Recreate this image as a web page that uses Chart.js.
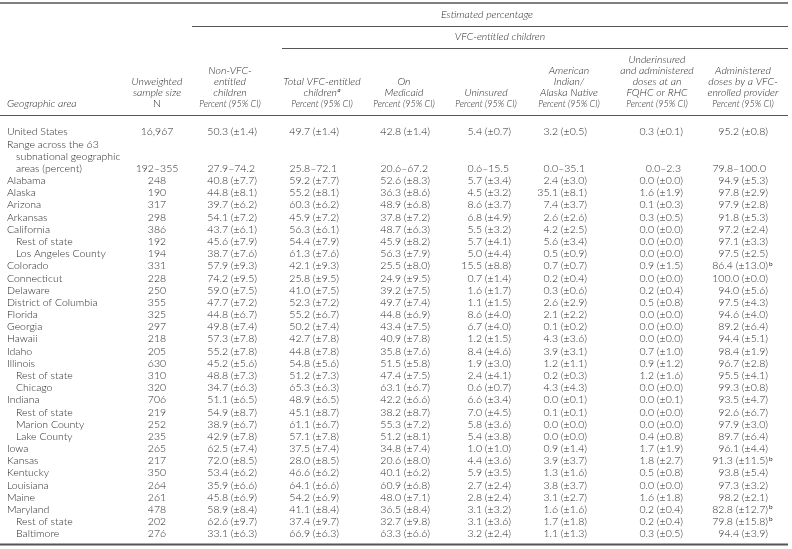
<!DOCTYPE html>
<html><head><meta charset="utf-8">
<script src="https://cdn.jsdelivr.net/npm/chart.js@4.4.1/dist/chart.umd.min.js"></script>
<style>html,body{margin:0;padding:0;background:#fff}#wrap{width:792px;height:549px;position:relative}canvas{display:block}</style>
</head><body><div id="wrap"><canvas id="c" width="792" height="549" style="width:792px;height:549px"></canvas></div>
<script>
// ---------------- DATA ----------------
const areas = ["United States","Alabama","Alaska","Arizona","Arkansas","California","Rest of state","Los Angeles County","Colorado","Connecticut","Delaware","District of Columbia","Florida","Georgia","Hawaii","Idaho","Illinois","Rest of state","Chicago","Indiana","Rest of state","Marion County","Lake County","Iowa","Kansas","Kentucky","Louisiana","Maine","Maryland","Rest of state","Baltimore"];
const subArea = [false,false,false,false,false,false,true,true,false,false,false,false,false,false,false,false,false,true,true,false,true,true,true,false,false,false,false,false,false,true,true];
const rangeLabel = ["Range across the 63","subnational geographic","areas (percent)"];
const sampleSize = [16967,248,190,317,298,386,192,194,331,228,250,355,325,297,218,205,630,310,320,706,219,252,235,265,217,350,264,261,478,202,276];
const nonVfc   = [50.3,40.8,44.8,39.7,54.1,43.7,45.6,38.7,57.9,74.2,59.0,47.7,44.8,49.8,57.3,55.2,45.2,48.8,34.7,51.1,54.9,38.9,42.9,62.5,72.0,53.4,35.9,45.8,58.9,62.6,33.1];
const nonVfcCI = [1.4,7.7,8.1,6.2,7.2,6.1,7.9,7.6,9.3,9.5,7.5,7.2,6.7,7.4,7.8,7.8,5.6,7.3,6.3,6.5,8.7,6.7,7.8,7.4,8.5,6.2,6.6,6.9,8.4,9.7,6.3];
const totalVfc   = [49.7,59.2,55.2,60.3,45.9,56.3,54.4,61.3,42.1,25.8,41.0,52.3,55.2,50.2,42.7,44.8,54.8,51.2,65.3,48.9,45.1,61.1,57.1,37.5,28.0,46.6,64.1,54.2,41.1,37.4,66.9];
const totalVfcCI = [1.4,7.7,8.1,6.2,7.2,6.1,7.9,7.6,9.3,9.5,7.5,7.2,6.7,7.4,7.8,7.8,5.6,7.3,6.3,6.5,8.7,6.7,7.8,7.4,8.5,6.2,6.6,6.9,8.4,9.7,6.3];
const medicaid   = [42.8,52.6,36.3,48.9,37.8,48.7,45.9,56.3,25.5,24.9,39.2,49.7,44.8,43.4,40.9,35.8,51.5,47.4,63.1,42.2,38.2,55.3,51.2,34.8,20.6,40.1,60.9,48.0,36.5,32.7,63.3];
const medicaidCI = [1.4,8.3,8.6,6.8,7.2,6.3,8.2,7.9,8.0,9.5,7.5,7.4,6.9,7.5,7.8,7.6,5.8,7.5,6.7,6.6,8.7,7.2,8.1,7.4,8.0,6.2,6.8,7.1,8.4,9.8,6.6];
const uninsured   = [5.4,5.7,4.5,8.6,6.8,5.5,5.7,5.0,15.5,0.7,1.6,1.1,8.6,6.7,1.2,8.4,1.9,2.4,0.6,6.6,7.0,5.8,5.4,1.0,4.4,5.9,2.7,2.8,3.1,3.1,3.2];
const uninsuredCI = [0.7,3.4,3.2,3.7,4.9,3.2,4.1,4.4,8.8,1.4,1.7,1.5,4.0,4.0,1.5,4.6,3.0,4.1,0.7,3.4,4.5,3.6,3.8,1.0,3.6,3.5,2.4,2.4,3.2,3.6,2.4];
const aian   = [3.2,2.4,35.1,7.4,2.6,4.2,5.6,0.5,0.7,0.2,0.3,2.6,2.1,0.1,4.3,3.9,1.2,0.2,4.3,0.0,0.1,0.0,0.0,0.9,3.9,1.3,3.8,3.1,1.6,1.7,1.1];
const aianCI = [0.5,3.0,8.1,3.7,2.6,2.5,3.4,0.9,0.7,0.4,0.6,2.9,2.2,0.2,3.6,3.1,1.1,0.3,4.3,0.1,0.1,0.0,0.0,1.4,3.7,1.6,3.7,2.7,1.6,1.8,1.3];
const underFqhc   = [0.3,0.0,1.6,0.1,0.3,0.0,0.0,0.0,0.9,0.0,0.2,0.5,0.0,0.0,0.0,0.7,0.9,1.2,0.0,0.0,0.0,0.0,0.4,1.7,1.8,0.5,0.0,1.6,0.2,0.2,0.3];
const underFqhcCI = [0.1,0.0,1.9,0.3,0.5,0.0,0.0,0.0,1.5,0.0,0.4,0.8,0.0,0.0,0.0,1.0,1.2,1.6,0.0,0.1,0.0,0.0,0.8,1.9,2.7,0.8,0.0,1.8,0.4,0.4,0.5];
const vfcProvider   = [95.2,94.9,97.8,97.9,91.8,97.2,97.1,97.5,86.4,100.0,94.0,97.5,94.6,89.2,94.4,98.4,96.7,95.5,99.3,93.5,92.6,97.9,89.7,96.1,91.3,93.8,97.3,98.2,82.8,79.8,94.4];
const vfcProviderCI = [0.8,5.3,2.9,2.8,5.3,2.4,3.3,2.5,13.0,0.0,5.6,4.3,4.0,6.4,5.1,1.9,2.8,4.1,0.8,4.7,6.7,3.0,6.4,4.4,11.5,5.4,3.2,2.1,12.7,15.8,3.9];
const vfcProviderNote = ["","","","","","","","","b","","","","","","","","","","","","","","","","b","","","","b","b",""];
// range across the 63 subnational areas: N, then the seven percentage columns
const rangeLow  = [192,27.9,25.8,20.6,0.6,0.0,0.0,79.8];
const rangeHigh = [355,74.2,72.1,67.2,15.5,35.1,2.3,100.0];

// ---------------- LAYOUT / STYLE ----------------
const W = 792, H = 549;
const FONT = 'Lato, "Open Sans", sans-serif';
const BODY = `300 10.5px ${FONT}`;
const HEAD = `italic 300 10.5px ${FONT}`;
const TXT = '#2a2a2a', RULE = '#555';
// x anchor for each numeric column (N is centred, others right-aligned)
const colAnchor = [157, 257, 339, 430, 511, 587, 683, 768];
const colAlign  = ['center','right','right','right','right','right','right','right'];
const headCenter = [157, 230, 322, 404, 486, 569, 657, 743];
const headLines = [
  [{t:"Unweighted"},{t:"sample size"},{t:"N",up:true}],
  [{t:"Non-VFC-"},{t:"entitled"},{t:"children"},{t:"Percent (95% CI)"}],
  [{t:"Total VFC-entitled"},{t:"children",sup:"a"},{t:"Percent (95% CI)"}],
  [{t:"On"},{t:"Medicaid"},{t:"Percent (95% CI)"}],
  [{t:"Uninsured"},{t:"Percent (95% CI)"}],
  [{t:"American"},{t:"Indian/"},{t:"Alaska Native"},{t:"Percent (95% CI)"}],
  [{t:"Underinsured"},{t:"and administered"},{t:"doses at an"},{t:"FQHC or RHC"},{t:"Percent (95% CI)"}],
  [{t:"Administered"},{t:"doses by a VFC-"},{t:"enrolled provider"},{t:"Percent (95% CI)"}]
];
const HEAD_SQUEEZE = {"Percent (95% CI)": 0.86};

// row line index: US = 0, range block = lines 1..3, then one line per area
const rangeLine = 3;
const areaLine = areas.map((a, i) => i === 0 ? 0 : i + rangeLine);
const lastLine = areaLine[areaLine.length - 1];

const f1 = v => v.toFixed(1);
const valueCols = [
  {v: sampleSize},
  {v: nonVfc, ci: nonVfcCI},
  {v: totalVfc, ci: totalVfcCI},
  {v: medicaid, ci: medicaidCI},
  {v: uninsured, ci: uninsuredCI},
  {v: aian, ci: aianCI},
  {v: underFqhc, ci: underFqhcCI},
  {v: vfcProvider, ci: vfcProviderCI, note: vfcProviderNote}
];

const datasets = valueCols.map((col, c) => {
  const pts = [], labels = [], notes = [];
  col.v.forEach((val, i) => {
    pts.push({x: colAnchor[c], y: areaLine[i]});
    labels.push(col.ci ? `${f1(val)} (\u00b1${f1(col.ci[i])})` : val.toLocaleString('en-US'));
    notes.push(col.note ? col.note[i] : '');
  });
  // range row
  pts.push({x: colAnchor[c], y: rangeLine});
  labels.push(c === 0 ? `${rangeLow[c]}\u2013${rangeHigh[c]}` : `${f1(rangeLow[c])}\u2013${f1(rangeHigh[c])}`);
  notes.push('');
  return {data: pts, cellText: labels, cellNote: notes, align: colAlign[c], isRange: pts.length - 1,
          pointRadius: 0, pointHoverRadius: 0, showLine: false};
});

const tablePlugin = {
  id: 'tableText',
  afterDatasetsDraw(chart) {
    const ctx = chart.ctx, ys = chart.scales.y;
    ctx.save();
    ctx.fillStyle = TXT;
    ctx.textBaseline = 'middle';
    // cells
    chart.data.datasets.forEach((ds, di) => {
      const meta = chart.getDatasetMeta(di);
      meta.data.forEach((el, i) => {
        ctx.font = BODY;
        let x = el.x;
        if (i === ds.isRange && ds.align === 'right') x -= 2;
        ctx.textAlign = ds.align;
        ctx.fillText(ds.cellText[i], x, el.y);
        if (ds.cellNote[i]) {
          ctx.font = `6.5px ${FONT}`;
          ctx.textAlign = 'left';
          ctx.fillText(ds.cellNote[i], x + 1, el.y - 2.5);
        }
      });
    });
    // row labels
    ctx.font = BODY;
    ctx.textAlign = 'left';
    areas.forEach((a, i) => {
      ctx.fillText(a, subArea[i] ? 16 : 7, ys.getPixelForValue(areaLine[i]));
    });
    rangeLabel.forEach((t, k) => {
      ctx.fillText(t, k === 0 ? 7 : 16, ys.getPixelForValue(rangeLine - 2 + k));
    });
    // header
    const headBottom = 104, headStep = 11;
    ctx.font = HEAD;
    ctx.textAlign = 'left';
    ctx.fillText('Geographic area', 7, headBottom);
    headLines.forEach((lines, c) => {
      const n = lines.length;
      lines.forEach((ln, k) => {
        const y = headBottom - (n - 1 - k) * headStep;
        const sq = HEAD_SQUEEZE[ln.t] || 1;
        ctx.font = ln.up ? BODY : HEAD;
        const w = ctx.measureText(ln.t).width * sq;
        let sw = 0;
        if (ln.sup) { ctx.font = `italic 6px ${FONT}`; sw = ctx.measureText(ln.sup).width + 0.5; }
        const x0 = headCenter[c] - (w + sw) / 2;
        ctx.font = ln.up ? BODY : HEAD;
        ctx.textAlign = 'left';
        ctx.save();
        ctx.translate(x0, y);
        ctx.scale(sq, 1);
        ctx.fillText(ln.t, 0, 0);
        ctx.restore();
        if (ln.sup) { ctx.font = `italic 6px ${FONT}`; ctx.fillText(ln.sup, x0 + w + 0.5, y - 2.5); }
      });
    });
    ctx.font = HEAD;
    ctx.textAlign = 'center';
    ctx.fillText('Estimated percentage', 487, 15);
    ctx.fillText('VFC-entitled children', 500, 37);
    // rules
    ctx.strokeStyle = RULE;
    const rule = (x0, x1, y, lw) => { ctx.lineWidth = lw; ctx.beginPath(); ctx.moveTo(x0, y); ctx.lineTo(x1, y); ctx.stroke(); };
    rule(0, 788, 3, 1.5);
    rule(192, 788, 26.5, 1.2);
    rule(282, 788, 48.5, 1.2);
    rule(0, 788, 115.5, 1.2);
    rule(0, 788, 544.5, 2);
    ctx.restore();
  }
};

new Chart(document.getElementById('c'), {
  type: 'scatter',
  data: {datasets},
  options: {
    responsive: false, animation: false, events: [],
    devicePixelRatio: 1,
    layout: {padding: {top: 132, bottom: H - 534, left: 0, right: 0}},
    plugins: {legend: {display: false}, tooltip: {enabled: false}},
    scales: {
      x: {type: 'linear', min: 0, max: W, display: false},
      y: {type: 'linear', min: 0, max: lastLine, reverse: true, display: false}
    }
  },
  plugins: [tablePlugin]
});
</script>
</body></html>
